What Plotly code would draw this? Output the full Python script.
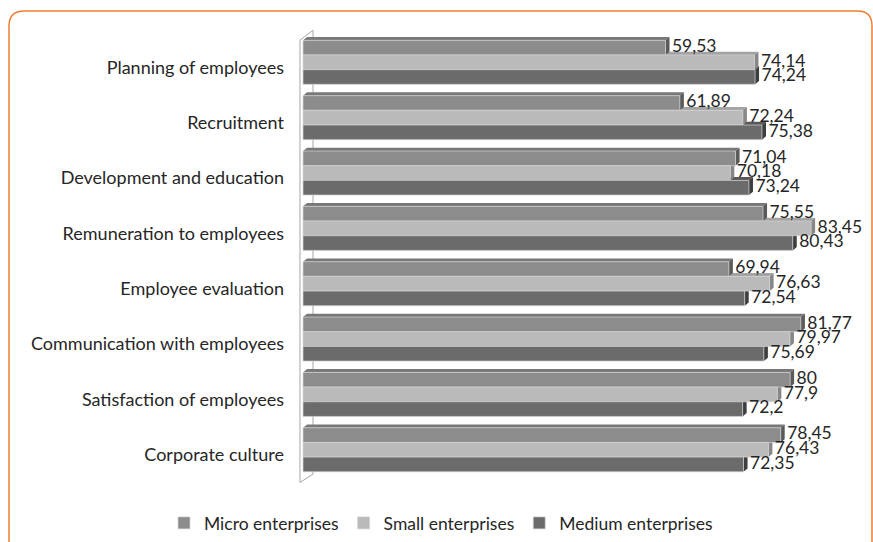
import plotly.graph_objects as go

categories = [
    "Planning of employees",
    "Recruitment",
    "Development and education",
    "Remuneration to employees",
    "Employee evaluation",
    "Communication with employees",
    "Satisfaction of employees",
    "Corporate culture",
]
series_names = ["Micro enterprises", "Small enterprises", "Medium enterprises"]
micro = [59.53, 61.89, 71.04, 75.55, 69.94, 81.77, 80, 78.45]
small = [74.14, 72.24, 70.18, 83.45, 76.63, 79.97, 77.9, 76.43]
medium = [74.24, 75.38, 73.24, 80.43, 72.54, 75.69, 72.2, 72.35]

front_colors = ["#8c8c8c", "#bababa", "#6b6b6b"]
top_colors = ["#787878", "#a3a3a3", "#585858"]
side_colors = ["#5a5a5a", "#878787", "#3e3e3e"]

FONT = "Lato"
TXT = "#262626"

# layout geometry (pixels)
W, H = 873, 542
ML, MR, MT, MB = 299, 22, 28, 59
XR = [-0.66, 90]
YR = [7.6, -0.62]

bargap = 0.205
n = 3
bw = (1 - bargap) / n
dx = 0.66   # depth in x units
dy = 0.06   # depth in y units

def fmt(v):
    return f"{v:g}".replace(".", ",")

fig = go.Figure()
all_series = [micro, small, medium]
idx = list(range(len(categories)))

for i, (name, vals) in enumerate(zip(series_names, all_series)):
    fig.add_trace(go.Bar(
        name=name, orientation="h", x=vals, y=idx,
        marker=dict(color=front_colors[i], line=dict(color="#d4d4d4", width=0.7)),
        hoverinfo="skip",
    ))

shapes = []
# back wall
shapes.append(dict(type="path", xref="x", yref="y", layer="below",
                   path="M -0.5,7.59 L -0.5,-0.40 L 1.64,-0.58 L 1.64,7.44 Z",
                   line=dict(color="#a6a6a6", width=1), fillcolor="white"))

# 3D faces (draw lower series first)
for i in reversed(range(n)):
    vals = all_series[i]
    off = -(1 - bargap) / 2 + bw * (i + 0.5)
    for j, v in enumerate(vals):
        yt = j + off - bw / 2
        yb = j + off + bw / 2
        shapes.append(dict(type="path", xref="x", yref="y", layer="below",
                           path=f"M 0,{yt} L {v},{yt} L {v+dx},{yt-dy} L {dx},{yt-dy} Z",
                           line=dict(width=0), fillcolor=top_colors[i]))
        shapes.append(dict(type="path", xref="x", yref="y", layer="below",
                           path=f"M {v},{yt} L {v+dx},{yt-dy} L {v+dx},{yb-dy} L {v},{yb} Z",
                           line=dict(width=0), fillcolor=side_colors[i]))

# value labels
for i in range(n):
    vals = all_series[i]
    off = -(1 - bargap) / 2 + bw * (i + 0.5)
    fig.add_trace(go.Scatter(
        x=[v + dx + 0.4 for v in vals], y=[j + off for j in idx],
        mode="text", text=[fmt(v) for v in vals], textposition="middle right",
        textfont=dict(family=FONT, size=17.5, color=TXT),
        showlegend=False, hoverinfo="skip", cliponaxis=False,
    ))

# orange rounded border (decoration, paper coords)
pw = W - ML - MR
ph = H - MT - MB
def xp(px):
    return (px - ML) / pw
def yp(py):
    return (H - MB - py) / ph
border = (f"M {xp(9)},{yp(600)} L {xp(9)},{yp(26)} Q {xp(9)},{yp(11)} {xp(24)},{yp(11)} "
          f"L {xp(858)},{yp(11)} Q {xp(872)},{yp(11)} {xp(872)},{yp(26)} L {xp(872)},{yp(600)}")
shapes.append(dict(type="path", xref="paper", yref="paper", path=border,
                   line=dict(color="#ed7d31", width=1.5), layer="above"))

fig.update_layout(
    width=W, height=H,
    margin=dict(l=ML, r=MR, t=MT, b=MB),
    paper_bgcolor="white", plot_bgcolor="white",
    barmode="group", bargap=bargap, bargroupgap=0,
    shapes=shapes,
    font=dict(family=FONT, size=18, color=TXT),
    xaxis=dict(range=XR, visible=False, showgrid=False, zeroline=False, fixedrange=True),
    yaxis=dict(range=YR, tickmode="array",
               tickvals=[j + 0.09 for j in idx], ticktext=categories,
               showgrid=False, zeroline=False, showline=False, ticks="",
               ticklabelstandoff=14,
               tickfont=dict(family=FONT, size=18, color=TXT), fixedrange=True),
    legend=dict(orientation="h", xref="container", yref="container",
                x=164 / W, xanchor="left", y=0.035, yanchor="middle",
                font=dict(family=FONT, size=17.5, color=TXT),
                itemwidth=30, traceorder="normal"),
    showlegend=True,
)

fig.write_html("out.html", config={"displayModeBar": False},
               post_script="document.body.style.margin='0px';")
